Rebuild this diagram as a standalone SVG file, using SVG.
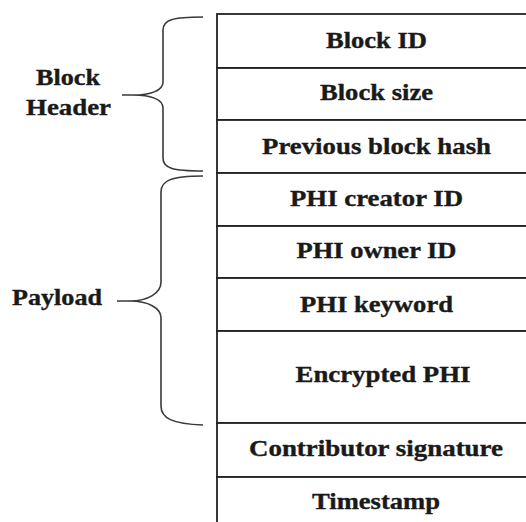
<svg xmlns="http://www.w3.org/2000/svg" width="526" height="522" viewBox="0 0 526 522">
<style>
.cell{fill:#fff;stroke:#222;stroke-width:1.8}
.t{font-family:"Liberation Serif","Times New Roman",serif;font-weight:bold;font-size:22.5px;fill:#1a1a1a;stroke:#1a1a1a;stroke-width:0.35;text-anchor:middle}
.lbl{font-family:"Liberation Serif","Times New Roman",serif;font-weight:bold;font-size:22.5px;fill:#1a1a1a;stroke:#1a1a1a;stroke-width:0.35;text-anchor:middle}
.brace{fill:none;stroke:#3a3a3a;stroke-width:1.6}
</style>
<rect width="526" height="522" fill="#fff"/>
<g id="row-block-id"><rect class="cell" x="217" y="14" width="330" height="54"/><text class="t" x="376.5" y="48" textLength="101" lengthAdjust="spacingAndGlyphs">Block ID</text></g>
<g id="row-block-size"><rect class="cell" x="217" y="68" width="330" height="52"/><text class="t" x="376.5" y="100" textLength="113" lengthAdjust="spacingAndGlyphs">Block size</text></g>
<g id="row-prev-hash"><rect class="cell" x="217" y="120" width="330" height="53"/><text class="t" x="376.5" y="154" textLength="229" lengthAdjust="spacingAndGlyphs">Previous block hash</text></g>
<g id="row-creator"><rect class="cell" x="217" y="173" width="330" height="53"/><text class="t" x="376.5" y="206" textLength="173" lengthAdjust="spacingAndGlyphs">PHI creator ID</text></g>
<g id="row-owner"><rect class="cell" x="217" y="226" width="330" height="52"/><text class="t" x="376.5" y="258" textLength="160" lengthAdjust="spacingAndGlyphs">PHI owner ID</text></g>
<g id="row-keyword"><rect class="cell" x="217" y="278" width="330" height="53"/><text class="t" x="376.5" y="312" textLength="153" lengthAdjust="spacingAndGlyphs">PHI keyword</text></g>
<g id="row-encrypted"><rect class="cell" x="217" y="331" width="330" height="92"/><text class="t" x="383" y="382" textLength="175" lengthAdjust="spacingAndGlyphs">Encrypted PHI</text></g>
<g id="row-signature"><rect class="cell" x="217" y="423" width="330" height="54"/><text class="t" x="376" y="456" textLength="254" lengthAdjust="spacingAndGlyphs">Contributor signature</text></g>
<g id="row-timestamp"><rect class="cell" x="217" y="477" width="330" height="60"/><text class="t" x="376" y="509" textLength="128" lengthAdjust="spacingAndGlyphs">Timestamp</text></g>
<g id="label-header"><text class="lbl" x="68" y="85" textLength="64" lengthAdjust="spacingAndGlyphs">Block</text><text class="lbl" x="68.5" y="115" textLength="85" lengthAdjust="spacingAndGlyphs">Header</text></g>
<g id="label-payload"><text class="lbl" x="57" y="305" textLength="90" lengthAdjust="spacingAndGlyphs">Payload</text></g>
<g id="connectors">
<path class="brace" d="M203,17 C172,17 163,20 163,30 L163,82 C163,91 150,95 133,95 L122,95 M133,95 C150,95 163,99 163,108 L163,158 C163,168 172,171 203,171"/>
<path class="brace" d="M203,176 C170,176 161,181 161,192 L161,282 C161,293 148,301 130,301 L117,301 M130,301 C148,301 161,308 161,318 L161,406 C161,418 172,424 203,425"/>
</g>
</svg>
